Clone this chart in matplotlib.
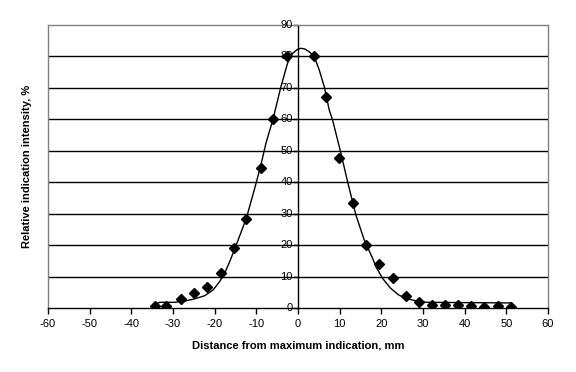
import matplotlib
matplotlib.use("Agg")
import matplotlib.pyplot as plt

plt.rcParams['font.family'] = ['Liberation Sans', 'DejaVu Sans']

# Measured points
meas_x = [-34.4, -31.6, -28.2, -25.0, -21.8, -18.6, -15.4, -12.4, -9.0, -5.9, -2.7,
          3.75, 6.7, 9.9, 13.2, 16.3, 19.4, 22.8, 26.0, 29.0, 32.2, 35.2, 38.3,
          41.6, 44.7, 47.9, 51.0]
meas_y = [0.7, 0.7, 3.0, 4.8, 6.7, 11.3, 19.3, 28.4, 44.7, 60.1, 80.2,
          80.2, 67.0, 47.7, 33.4, 20.1, 14.1, 9.5, 4.0, 1.9, 1.05, 1.05, 1.05,
          0.8, 0.5, 0.8, 0.5]

# Fitted curve
curve_x = [-34.5, -33.2, -29.6, -27.2, -24.8, -22.4, -20.4, -18.8, -17.6, -16.4, -15.2,
           -12.4, -10.5, -9.0, -7.7, -6.05, -4.1, -2.5, -1.3, -0.1, 0.7, 1.6, 2.7,
           3.9, 5.1, 6.3, 7.5, 8.3, 10.3, 11.9, 13.9, 15.9, 17.9, 18.7, 20.3, 22.2,
           24.2, 26.2, 28.6, 31.0, 51.0]
curve_y = [1.0, 1.9, 1.9, 2.3, 3.0, 4.0, 5.8, 8.5, 11.1, 14.8, 18.8,
           28.6, 37.6, 45.0, 52.4, 59.8, 70.4, 77.9, 81.0, 82.3, 82.6, 82.4, 81.5,
           80.0, 75.7, 70.4, 63.0, 59.8, 49.3, 40.2, 29.6, 21.7, 15.9, 13.2, 9.5, 6.4,
           4.2, 3.0, 2.3, 1.9, 1.7]

x_ticks = list(range(-60, 61, 10))
y_ticks = list(range(0, 91, 10))

fig = plt.figure(figsize=(5.76, 3.72), dpi=100)
ax = fig.add_axes([48/576, 1-308.3/372, 500/576, 283.3/372])
ax.set_xlim(-60, 60)
ax.set_ylim(0, 90)

# gridlines
for yv in y_ticks[1:-1]:
    ax.axhline(yv, color='black', lw=1.0, zorder=1)

# gray plot border
for s in ['top', 'right', 'left']:
    ax.spines[s].set_color('#808080')
    ax.spines[s].set_linewidth(1.0)
ax.spines['bottom'].set_color('black')
ax.spines['bottom'].set_linewidth(1.0)

# central value axis at x=0
ax.axvline(0, color='black', lw=1.0, zorder=2)
for yv in y_ticks:
    ax.plot([-1.0, 0], [yv, yv], color='black', lw=1.0, clip_on=False, zorder=2)
    ax.text(-1.3, yv, str(yv), ha='right', va='center', fontsize=8, zorder=3)

ax.set_yticks([])
ax.set_xticks(x_ticks)
ax.set_xticklabels([str(v) for v in x_ticks], fontsize=8)
ax.tick_params(axis='x', direction='out', length=4, width=1, color='black', pad=4)

ax.plot(curve_x, curve_y, color='black', lw=1.0, zorder=4)
ax.plot(meas_x, meas_y, linestyle='none', marker='D', ms=4.7, color='black', zorder=5)

ax.set_xlabel('Distance from maximum indication, mm', fontsize=8, fontweight='bold', labelpad=8)
fig.text(27/576, 1-166/372, 'Relative indication intensity, %', rotation=90,
         ha='center', va='center', fontsize=8, fontweight='bold')

fig.savefig('out.png', dpi=100, facecolor='white')
